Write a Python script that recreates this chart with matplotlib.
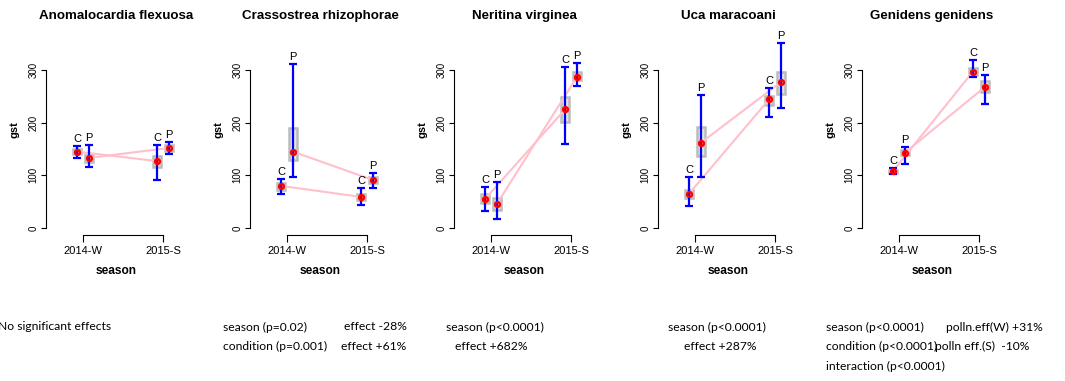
import numpy as np
import matplotlib.pyplot as plt
from matplotlib.patches import Rectangle

plt.rcParams['font.family'] = 'Liberation Sans'

# species panels and seasons
species = ['Anomalocardia flexuosa', 'Crassostrea rhizophorae', 'Neritina virginea',
           'Uca maracoani', 'Genidens genidens']
seasons = ['2014-W', '2015-S']

# means per species, [2014-W, 2015-S]; C = control, P = polluted
c_mean = [[145, 127], [80, 59], [55, 225], [65, 244], [108, 297]]
p_mean = [[133, 152], [145, 91], [46, 287], [162, 277], [143, 268]]

# error bar ends
c_lo = [[133, 91], [65, 44], [32, 160], [42, 211], [103, 287]]
c_hi = [[156, 158], [93, 75], [77, 306], [97, 266], [113, 319]]
p_lo = [[116, 140], [97, 76], [18, 270], [97, 228], [122, 235]]
p_hi = [[158, 164], [311, 105], [87, 314], [253, 352], [154, 291]]

# grey boxes
c_box_lo = [[141, 116], [72, 54], [47, 202], [56, 233], [104, 290]]
c_box_hi = [[150, 137], [86, 64], [65, 249], [73, 250], [111, 303]]
p_box_lo = [[126, 147], [130, 86], [34, 281], [137, 254], [138, 258]]
p_box_hi = [[139, 157], [190, 96], [56, 297], [191, 297], [148, 279]]

# text below each panel
notes = [
    [(-2, 0, 'No significant effects')],
    [(223, 0, 'season (p=0.02)'), (344, 0, 'effect -28%'),
     (223, 1, 'condition (p=0.001)'), (341, 1, 'effect +61%')],
    [(446, 0, 'season (p<0.0001)'), (455, 1, 'effect +682%')],
    [(668, 0, 'season (p<0.0001)'), (684, 1, 'effect +287%')],
    [(826, 0, 'season (p<0.0001)'), (946, 0, 'polln.eff(W) +31%'),
     (826, 1, 'condition (p<0.0001)'), (935, 1, 'polln eff.(S)  -10%'),
     (826, 2, 'interaction (p<0.0001)')],
]

W, H = 1065, 381
fig = plt.figure(figsize=(W / 100, H / 100), dpi=100)


def fx(px):
    return px / W


def fy(py):
    return 1 - py / H


off = 0.075
bw = 0.1
x = np.array([1, 2])

for k, name in enumerate(species):
    left = 46 + 204 * k
    ax = fig.add_axes([fx(left), fy(235), 140 / W, (235 - 31) / H])
    ax.set_xlim(1 - 37 / 80, 1 + 103 / 80)
    ax.set_ylim(-13.3, 374)

    for xs, m, lo, hi, blo, bhi, lab in [
            (x - off, c_mean[k], c_lo[k], c_hi[k], c_box_lo[k], c_box_hi[k], 'C'),
            (x + off, p_mean[k], p_lo[k], p_hi[k], p_box_lo[k], p_box_hi[k], 'P')]:
        m = np.array(m)
        for xi, b0, b1 in zip(xs, blo, bhi):
            ax.add_patch(Rectangle((xi - bw / 2, b0), bw, b1 - b0, ec='#bcbcbc',
                                   fc='#e4e4e4', lw=1.8, zorder=1))
        ax.plot(xs, m, color='pink', lw=1.5, zorder=2)
        ax.errorbar(xs, m, yerr=[m - np.array(lo), np.array(hi) - m], fmt='none',
                    ecolor='blue', elinewidth=1.6, capsize=3.2, capthick=1.6, zorder=3)
        ax.plot(xs, m, 'o', ms=3.4, mfc='none', mec='red', mew=1.8, zorder=4)
        for xi, h in zip(xs, hi):
            ax.annotate(lab, (xi, h), xytext=(0, 1.5), textcoords='offset points',
                        ha='center', va='bottom', fontsize=8)

    for s in ['top', 'right']:
        ax.spines[s].set_visible(False)
    ax.spines['left'].set_bounds(0, 300)
    ax.spines['bottom'].set_bounds(1, 2)
    ax.spines['left'].set_linewidth(0.8)
    ax.spines['bottom'].set_linewidth(0.8)
    ax.set_yticks([0, 100, 200, 300])
    ax.set_yticklabels(['0', '100', '200', '300'], rotation=90, va='center')
    ax.set_xticks([1, 2])
    ax.set_xticklabels(seasons)
    ax.tick_params(axis='y', length=3.6, width=0.8, pad=2, labelsize=7)
    ax.tick_params(axis='x', length=5, width=0.8, pad=3, labelsize=8)
    ax.patch.set_visible(False)

    fig.text(fx(left + 70), fy(16), name, ha='center', va='center',
             fontsize=9.6, fontweight='bold')
    fig.text(fx(left + 70), fy(271), 'season', ha='center', va='center',
             fontsize=8.6, fontweight='bold')
    fig.text(fx(left - 31), fy(130), 'gst', ha='center', va='center',
             rotation=90, fontsize=8, fontweight='bold')

    for px, line, t in notes[k]:
        fig.text(fx(px), fy(327 + 19.5 * line), t, ha='left', va='center',
                 fontsize=8.7, family='Lato')

fig.savefig('out.png', dpi=100)
